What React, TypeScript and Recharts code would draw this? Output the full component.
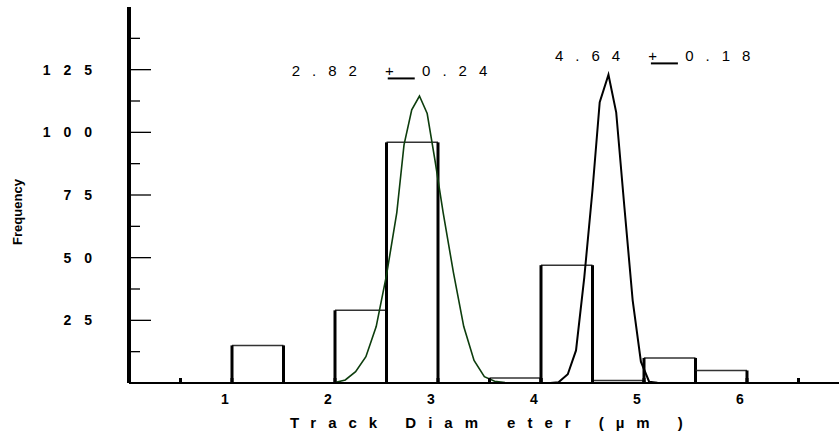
import React from "react";
import { ComposedChart, Line, XAxis, YAxis, ReferenceArea, ReferenceDot } from "recharts";

// histogram: bin start (µm), bin width and counts
const binStart = [1.0, 1.5, 2.0, 2.5, 3.0, 3.5, 4.0, 4.5, 5.0, 5.5];
const binCount = [15, 0, 29, 96, 0, 2, 47, 1, 10, 5];
const binWidth = 0.5;

// fitted peak around 2.82 (green)
const fitAX = [2.0, 2.1, 2.2, 2.3, 2.4, 2.5, 2.6, 2.67, 2.745, 2.82, 2.895, 2.97, 3.05, 3.15, 3.25, 3.35, 3.45, 3.55, 3.65];
const fitAY = [0.2, 1.2, 4.5, 10.5, 22.5, 43, 68, 95, 109, 114.5, 107.5, 89, 68, 44, 22.5, 9, 2.5, 0.7, 0.2];

// fitted peak around 4.64 (black)
const fitBX = [4.09, 4.17, 4.26, 4.34, 4.42, 4.5, 4.57, 4.655, 4.73, 4.81, 4.89, 4.97, 5.05, 5.13];
const fitBY = [0, 0.3, 3.5, 13, 42, 77, 112, 123, 108, 70, 33, 8.5, 0.5, 0.1];

const xTicks = [0.5, 1, 1.5, 2, 2.5, 3, 3.5, 4, 4.5, 5, 5.5, 6, 6.5];
const yTicks = [12.5, 25, 37.5, 50, 62.5, 75, 87.5, 100, 112.5, 125, 137.5];

// peak annotations
const noteMean = ["2.82", "4.64"];
const noteSd = ["0.24", "0.18"];
const noteX = [1.58, 4.135];
const noteY = [122.5, 128.5];

const FONT = "'Liberation Sans', Arial, sans-serif";

const fitA = fitAX.map((x, i) => ({ x, y: fitAY[i] }));
const fitB = fitBX.map((x, i) => ({ x, y: fitBY[i] }));

function BottomTick({ x, y, payload }: any) {
  const v = payload.value;
  return (
    <g>
      <rect x={x - 1.5} y={y - 5} width={3} height={5} fill="#000" />
      {Number.isInteger(v) && (
        <text x={x - 7} y={y + 21} textAnchor="middle" fontFamily={FONT} fontSize={14} fontWeight="bold" fill="#000">
          {v}
        </text>
      )}
    </g>
  );
}

function TopTick({ x, y }: any) {
  return <line x1={x} x2={x} y1={y} y2={y + 2.5} stroke="#555" strokeWidth={1} />;
}

function LeftTick({ x, y, payload }: any) {
  const v = payload.value;
  const major = v % 25 === 0;
  return (
    <g>
      <line x1={x} x2={x + (major ? 22 : 11)} y1={y} y2={y} stroke="#000" strokeWidth={1.3} />
      {major && (
        <text x={x - 24} y={y + 5} textAnchor="end" fontFamily={FONT} fontSize={14} fontWeight="bold" letterSpacing={13} fill="#000">
          {v}
        </text>
      )}
    </g>
  );
}

function HistBar({ x, y, width, height }: any) {
  return (
    <g>
      <line x1={x} x2={x + width} y1={y} y2={y} stroke="#333" strokeWidth={1.5} />
      <line x1={x} x2={x} y1={y} y2={y + height} stroke="#000" strokeWidth={3} />
      <line x1={x + width} x2={x + width} y1={y} y2={y + height} stroke="#000" strokeWidth={3} />
    </g>
  );
}

function noteLabel(i: number) {
  return (props: any) => {
    const vb = props.viewBox;
    const cx = vb.x + vb.width / 2;
    const cy = vb.y + vb.height / 2;
    return (
      <g>
        <text x={cx} y={cy} fontFamily={FONT} fontSize={15} letterSpacing={12} fill="#000">
          {noteMean[i]} + {noteSd[i]}
        </text>
        <line x1={cx + 96} x2={cx + 123} y1={cy + 2.5} y2={cy + 2.5} stroke="#000" strokeWidth={2} />
      </g>
    );
  };
}

export default function App() {
  return (
    <div style={{ position: "absolute", left: 0, top: 0, width: 839, height: 437, overflow: "hidden", background: "#fff" }}>
      <ComposedChart width={860} height={437} margin={{ top: 7, right: 10, bottom: 24, left: 69 }}>
        <XAxis
          xAxisId="top"
          orientation="top"
          type="number"
          dataKey="x"
          domain={[0, 7]}
          ticks={xTicks}
          height={0}
          axisLine={{ stroke: "#000", strokeWidth: 1.5 }}
          tickLine={false}
          tickSize={0}
          tickMargin={0}
          tick={<TopTick />}
        />
        <XAxis
          type="number"
          dataKey="x"
          domain={[0, 7]}
          ticks={xTicks}
          height={30}
          axisLine={{ stroke: "#000", strokeWidth: 2 }}
          tickLine={false}
          tickSize={0}
          tickMargin={0}
          tick={<BottomTick />}
          label={() => (
            <text x={290} y={428} fontFamily={FONT} fontSize={15} fontWeight="bold" letterSpacing={12} fill="#000">
              Track Diam<tspan dx={17}>eter (µm )</tspan>
            </text>
          )}
        />
        <YAxis
          type="number"
          domain={[0, 150]}
          ticks={yTicks}
          width={60}
          axisLine={{ stroke: "#000", strokeWidth: 4 }}
          tickLine={false}
          tickSize={0}
          tickMargin={0}
          tick={<LeftTick />}
          label={() => (
            <text x={22} y={212} transform="rotate(-90, 22, 212)" textAnchor="middle" fontFamily={FONT} fontSize={13} fontWeight="bold" fill="#000">
              Frequency
            </text>
          )}
        />
        {binStart.map((s, i) =>
          binCount[i] > 0 ? (
            <ReferenceArea
              key={"bin" + i}
              x1={s}
              x2={s + binWidth}
              y1={0}
              y2={binCount[i]}
              fill="none"
              stroke="none"
              shape={(p: any) => <HistBar {...p} />}
            />
          ) : null
        )}
        <Line data={fitA} dataKey="y" type="linear" stroke="#0d3d0d" strokeWidth={1.6} dot={false} isAnimationActive={false} />
        <Line data={fitB} dataKey="y" type="linear" stroke="#000" strokeWidth={2} dot={false} isAnimationActive={false} />
        {noteMean.map((m, i) => (
          <ReferenceDot key={"note" + i} x={noteX[i]} y={noteY[i]} r={1} fill="none" stroke="none" label={noteLabel(i)} />
        ))}
      </ComposedChart>
    </div>
  );
}
